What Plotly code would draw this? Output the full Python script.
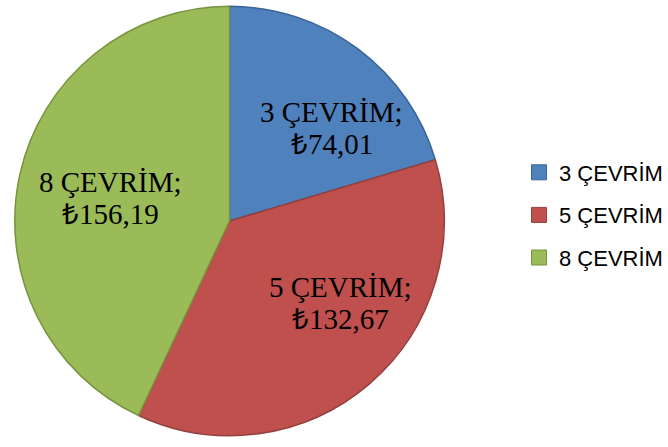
import plotly.graph_objects as go

labels = ["3 ÇEVRİM", "5 ÇEVRİM", "8 ÇEVRİM"]
values = [74.01, 132.67, 156.19]
value_text = ["₺74,01", "₺132,67", "₺156,19"]
fill_colors = ["#4F81BD", "#C0504D", "#9BBB59"]
edge_colors = ["#3A6395", "#94403D", "#77933C"]

# where each slice's data label sits (paper pixels: centre x, first line y)
label_pos = [(337, 112), (346, 287), (112, 182)]
line_gap = 32

W, H = 668, 447

fig = go.Figure()
fig.add_trace(go.Pie(
    labels=labels,
    values=values,
    sort=False,
    direction="clockwise",
    rotation=0,
    textinfo="none",
    marker=dict(colors=fill_colors, line=dict(color=edge_colors, width=1.5)),
    domain=dict(x=[15 / W, 451 / W], y=[8 / H, 444 / H]),
    hoverinfo="label+value",
    showlegend=False,
))

# legend entries (square swatches)
for i, name in enumerate(labels):
    fig.add_trace(go.Scatter(
        x=[None], y=[None], mode="markers", name=name,
        legendgroup=name,
        marker=dict(symbol="square", size=15, color=fill_colors[i],
                    line=dict(color=edge_colors[i], width=1)),
    ))

# data labels
for i, name in enumerate(labels):
    cx, cy = label_pos[i]
    for k, txt in enumerate([name + ";", value_text[i]]):
        fig.add_annotation(
            x=cx / W, y=1 - (cy + k * line_gap) / H, xref="paper", yref="paper",
            text=txt, showarrow=False, xanchor="center", yanchor="middle",
            font=dict(family="Liberation Serif", size=29, color="black"),
        )

fig.update_layout(
    width=W,
    height=H,
    margin=dict(l=0, r=0, t=0, b=0),
    paper_bgcolor="white",
    plot_bgcolor="white",
    xaxis=dict(visible=False),
    yaxis=dict(visible=False),
    legend=dict(
        x=527 / W, y=1 - 215 / H, xanchor="left", yanchor="middle",
        font=dict(family="Liberation Sans", size=22, color="black"),
        itemwidth=30, tracegroupgap=11, bgcolor="rgba(0,0,0,0)",
    ),
)

fig.write_html("out.html", config={"displayModeBar": False},
               post_script="document.body.style.margin='0';")
